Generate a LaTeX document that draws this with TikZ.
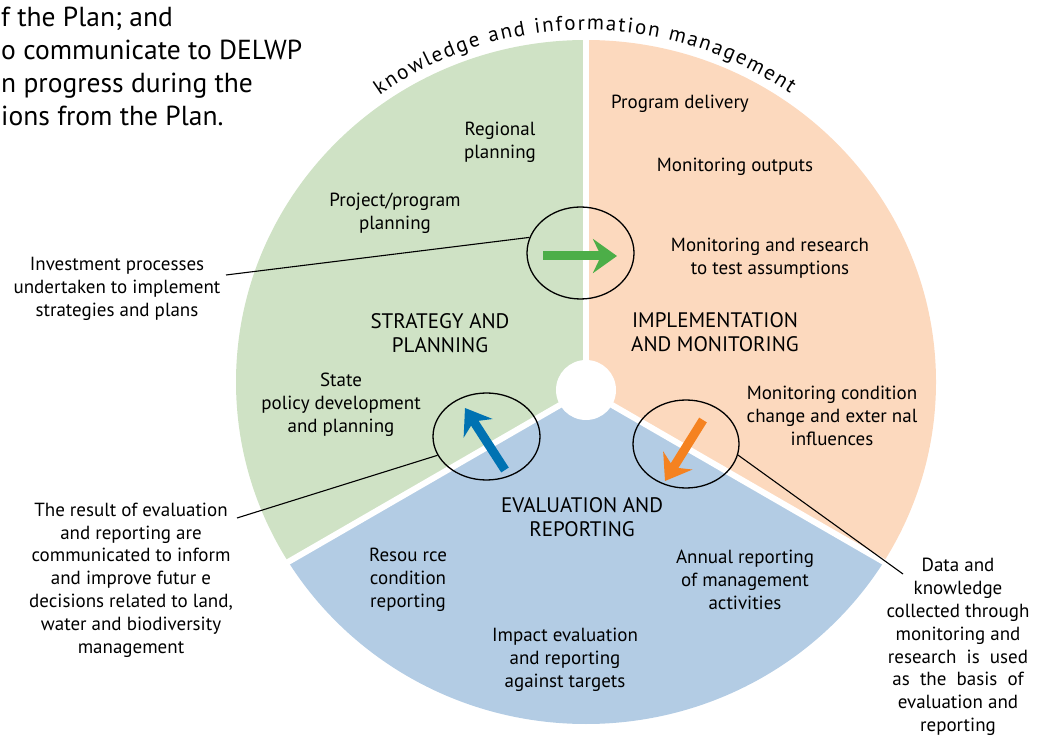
\documentclass[tikz,border=0pt]{standalone}
\usepackage{fontspec}
\setmainfont{PT Sans}
\usetikzlibrary{arrows.meta,decorations.text,shapes.geometric}
\definecolor{secG}{RGB}{207,226,197}
\definecolor{secO}{RGB}{252,217,190}
\definecolor{secB}{RGB}{179,204,228}
\definecolor{arG}{RGB}{76,174,72}
\definecolor{arB}{RGB}{0,114,178}
\definecolor{arO}{RGB}{245,130,32}
\newcommand{\curvefont}{\fontsize{21}{21}\selectfont}
\begin{document}
\begin{tikzpicture}[x=1pt,y=1pt,
  lbl/.style={align=center, font=\fontsize{19}{22.8}\selectfont, inner sep=0pt},
  headlbl/.style={align=center, font=\fontsize{21}{24.5}\selectfont, inner sep=0pt},
  callout/.style={draw=black, line width=1.3pt, ellipse, inner sep=0pt},
  leader/.style={draw=black, line width=1.1pt},
  flow/.style={line width=9pt, -{Stealth[length=24pt,width=34pt,inset=8pt]}},
  gap/.style={draw=white, line width=6pt}
]
\useasboundingbox (0,0) rectangle (1043,736);
\coordinate (C) at (586,346);
\coordinate (E) at (586,354);
% sectors
\begin{scope}
  \clip (C) -- ([shift={(90:800)}]C) -- ([shift={(150:800)}]C) -- ([shift={(210:800)}]C) -- cycle;
  \fill[secG] (E) ellipse [x radius=350, y radius=342];
\end{scope}
\begin{scope}
  \clip (C) -- ([shift={(90:800)}]C) -- ([shift={(30:800)}]C) -- ([shift={(-30:800)}]C) -- cycle;
  \fill[secO] (E) ellipse [x radius=350, y radius=342];
\end{scope}
\begin{scope}
  \clip (C) -- ([shift={(210:800)}]C) -- ([shift={(270:800)}]C) -- ([shift={(330:800)}]C) -- cycle;
  \fill[secB] (E) ellipse [x radius=350, y radius=342];
\end{scope}
\draw[gap] (C) -- ([shift={(90:420)}]C);
\draw[gap] (C) -- ([shift={(210:420)}]C);
\draw[gap] (C) -- ([shift={(330:420)}]C);
\fill[white] (C) circle [radius=30];

% curved title
\path[decorate, decoration={text along path, text={|\curvefont|knowledge and information management}, text align={fit to path}}]
  ([shift={(125:360)}]C) arc [start angle=125, end angle=55.5, radius=360];

% top-left text
\node[anchor=north west, align=left, inner sep=0pt, font=\fontsize{27.5}{33}\selectfont] (intro) at (1,729)
  {f the Plan; and\\o communicate to DELWP\\n progress during the\\ions from the Plan.};

% callout ellipses
\node[callout, minimum width=107pt, minimum height=92pt] (gE) at (580.5,483) {};
\node[callout, minimum width=107pt, minimum height=87pt] (bE) at (486.5,299.5) {};
\node[callout, minimum width=106pt, minimum height=88pt] (oE) at (686,292) {};

% arrows
\coordinate (gA1) at (543,480); \coordinate (gA2) at (617,480);
\coordinate (bA1) at (505,266); \coordinate (bA2) at (465,328);
\coordinate (oA1) at (703,316); \coordinate (oA2) at (665,255);
\draw[flow, arG] (gA1) -- (gA2);
\draw[flow, arB] (bA1) -- (bA2);
\draw[flow, arO] (oA1) -- (oA2);

% sector labels
\node[lbl] (reg) at (500,594) {Regional\\planning};
\node[lbl] (proj) at (395,523) {Project/program\\planning};
\node[headlbl] (strat) at (440,403) {STRATEGY AND\\PLANNING};
\node[lbl] (state) at (341,331) {State\\policy development\\and planning};
\node[lbl] (deliv) at (680,632) {Program delivery};
\node[lbl] (monout) at (735,569) {Monitoring outputs};
\node[lbl] (monres) at (770,478) {Monitoring and research\\to test assumptions};
\node[headlbl] (impl) at (715,404) {IMPLEMENTATION\\AND MONITORING};
\node[lbl] (moncond) at (832,320) {Monitoring condition\\change and exter nal\\influences};
\node[headlbl] (eval) at (582,219) {EVALUATION AND\\REPORTING};
\node[lbl] (resou) at (408,156) {Resou rce\\condition\\reporting};
\node[lbl] (annual) at (745,156) {Annual reporting\\of management\\activities};
\node[lbl] (impact) at (565,76) {Impact evaluation\\and reporting\\against targets};

% outside labels
\node[lbl] (invest) at (117,447) {Investment processes\\undertaken to implement\\strategies and plans};
\node[lbl] (result) at (131,156) {The result of evaluation\\and reporting are\\communicated to inform\\and improve futur e\\decisions related to land,\\water and biodiversity\\management};
\node[lbl] (data) at (958,89) {Data and\\knowledge\\collected through\\monitoring and\\research\ \ is\ \ used\\as\ \ the\ \ basis\ \ of\\evaluation and\\reporting};

% leaders
\coordinate (invEnd) at (226,461);
\coordinate (resEnd) at (237,218);
\coordinate (dataEnd) at (903,162);
\draw[leader] (invEnd) -- (gE.163);
\draw[leader] (resEnd) -- (bE.201);
\draw[leader] (oE.348) -- (dataEnd);
\end{tikzpicture}
\end{document}
